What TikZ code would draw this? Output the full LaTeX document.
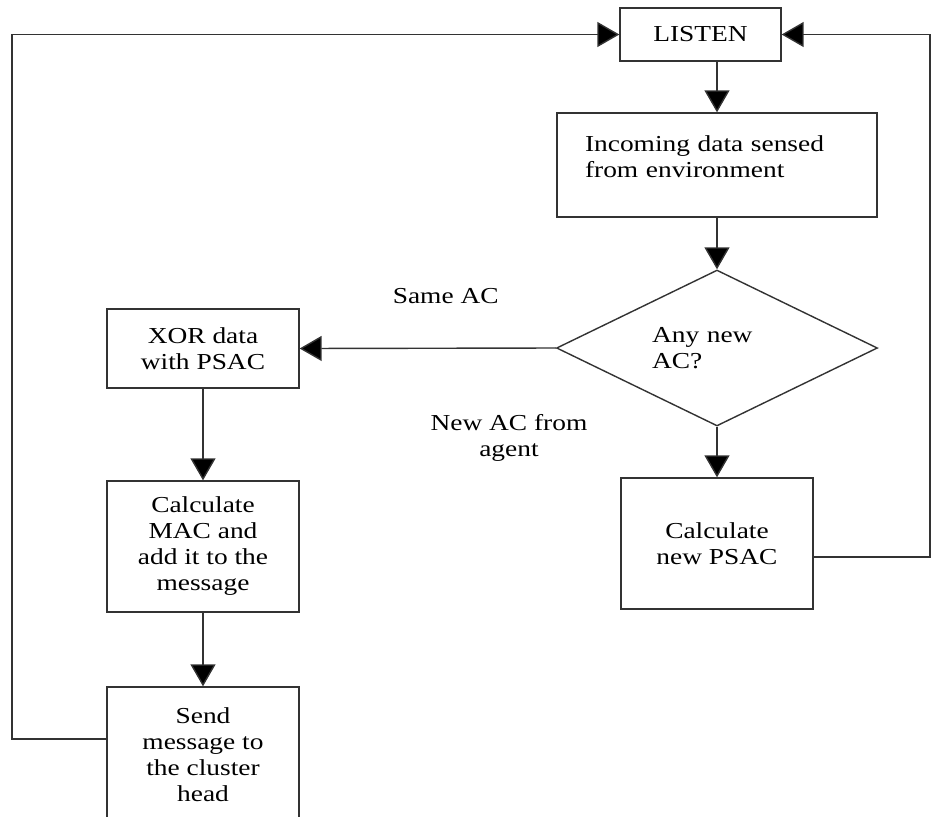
\documentclass[tikz,border=0pt]{standalone}
\usepackage{fontspec}
\setmainfont{Liberation Serif}[FakeStretch=1.2]
\usetikzlibrary{arrows.meta,shapes.geometric}

\begin{document}
\begin{tikzpicture}[x=0.02cm, y=-0.02cm, font=\fontsize{13}{14.8}\selectfont,
    box/.style={shape=rectangle, draw=black!80, line width=0.8pt, align=center, inner sep=2pt},
    flow/.style={draw=black!80, line width=0.8pt, -{Triangle[length=0.44cm, width=0.5cm, fill=black]}}]

    \useasboundingbox (0,0) rectangle (931,816);

    \node at (700.5, 34.5) (listen) [box, minimum width=3.22cm, minimum height=1.06cm] {LISTEN};
    \node at (717, 165) (sense) [box, align=left, text width=5.28cm, inner xsep=0.56cm, minimum height=2.08cm] {Incoming data sensed\\from environment\\[-0.2cm]\mbox{}};
    \node at (717, 348) (anyac) [shape=diamond, draw=black!80, line width=0.8pt, aspect=2, inner sep=0pt, minimum width=6.42cm, minimum height=3.12cm, align=left, text width=2.6cm] {Any new\\AC?};
    \node at (203, 348.5) (xor) [box, minimum width=3.84cm, minimum height=1.58cm] {XOR data\\with PSAC};
    \node at (203, 546.5) (mac) [box, minimum width=3.84cm, minimum height=2.62cm] {Calculate\\MAC and\\add it to the\\message};
    \node at (203, 755) (send) [box, minimum width=3.84cm, minimum height=2.72cm] {Send\\message to\\the cluster\\head};
    \node at (717, 543.5) (psac) [box, minimum width=3.84cm, minimum height=2.62cm] {Calculate\\new PSAC};

    \node at (509, 438) (newac) [align=center] {New AC from\\agent};

    \coordinate (lcorner) at (12, 34.5);
    \coordinate (rcorner) at (930, 34.5);

    \path[flow] (listen.south -| sense.north) -- (sense.north);
    \path[flow] (sense) -- (anyac);
    \path[flow] (anyac.west) -- (xor.east) node [pos=0.43, above=0.76cm] {Same AC};
    \path[flow] (anyac.south) -- (psac.north);
    \path[flow] (xor) -- (mac);
    \path[flow] (mac) -- (send);
    \path[flow] ([yshift=0.32cm]send.west) -| (lcorner) -- (listen.west);
    \path[flow] ([yshift=-0.27cm]psac.east) -| (rcorner) -- (listen.east);

\end{tikzpicture}
\end{document}
